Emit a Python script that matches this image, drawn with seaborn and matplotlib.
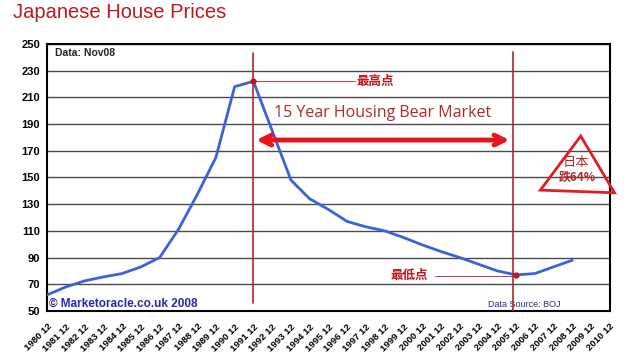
import matplotlib
matplotlib.use("Agg")
import matplotlib.pyplot as plt
import seaborn as sns
import pandas as pd
from matplotlib.patches import Polygon

# annual house price index, December readings (BOJ)
years = list(range(1980, 2009))
prices = [62, 68, 72.5, 75.5, 78, 83, 90, 111, 137, 165, 218, 222, 185, 148,
          134, 126, 117, 113, 110, 105, 99.5, 94.5, 90, 85, 80, 77, 78, 83, 88]
tick_years = list(range(1980, 2011))
y_ticks = list(range(50, 251, 20))

peak_year = 1991
low_year = 2005

sns.set_style("white")
plt.rcParams['font.family'] = ['Liberation Sans', 'Noto Sans CJK SC', 'DejaVu Sans']

df = pd.DataFrame({'pos': [y - 1980 for y in years], 'price': prices})

fig = plt.figure(figsize=(6.28, 3.57), dpi=100)
ax = fig.add_axes([0.075, 0.129, 0.896, 0.748])

red = '#c0161d'
dark_red = '#b3262b'

sns.lineplot(x='pos', y='price', data=df, color='#3b62da', linewidth=2, ax=ax, zorder=3)

ax.set_xlim(0, 30)
ax.set_ylim(50, 250)
ax.set_yticks(y_ticks)
ax.set_yticklabels([str(v) for v in y_ticks], fontsize=8, fontweight='bold')
ax.set_xticks(range(len(tick_years)))
ax.set_xticklabels([f"{y} 12" for y in tick_years], rotation=45, ha='right',
                   rotation_mode='anchor', fontsize=6.8, fontweight='bold')
ax.tick_params(axis='both', direction='out', length=3, width=1, colors='black', pad=2)
ax.tick_params(axis='x', pad=5)
ax.set_xlabel('')
ax.set_ylabel('')
ax.grid(axis='y', color='#4a4a4a', linewidth=1)
for s in ax.spines.values():
    s.set_color('black')
    s.set_linewidth(1.5)

# bear market markers
p_peak = peak_year - 1980
p_low = low_year - 1980
ax.plot([p_peak, p_peak], [243, 56], color=dark_red, lw=1.2, zorder=4)
ax.plot([p_low - 0.15, p_low - 0.15], [244, 50], color=dark_red, lw=1.2, zorder=4)
ax.plot([p_peak, 5.4 + p_peak], [222, 222], color=red, lw=0.6, zorder=4)
ax.plot([20.7, p_low], [76.5, 76.5], color=dark_red, lw=0.6, zorder=4)
ax.plot(p_peak, 222, 'o', color=red, ms=3.5, zorder=5)
ax.plot(p_low, 77, 'o', color=red, ms=3.5, zorder=5)

ax.text(16.5, 222, '最高点', color=red, fontsize=9, fontweight='bold',
        va='center', ha='left', family=['Noto Sans CJK SC'])
ax.text(20.3, 76.5, '最低点', color=red, fontsize=9, fontweight='bold',
        va='center', ha='right', family=['Noto Sans CJK SC'])
ax.text(17.9, 198, '15 Year Housing Bear Market', color=dark_red, fontsize=11.5,
        ha='center', va='center', family=['Open Sans'])
ax.annotate('', xy=(p_peak, 178), xytext=(p_low - 0.2, 178),
            arrowprops=dict(arrowstyle='<->', color='#e8151c', lw=3.5, mutation_scale=18))

# hand drawn triangle
tri = Polygon([[28.45, 181], [26.3, 140.5], [30.25, 138.5]], closed=True, fill=False,
              edgecolor='#e31b23', lw=2, clip_on=False, zorder=6)
ax.add_patch(tri)
ax.text(28.2, 161, '日本', color=dark_red, fontsize=9.5, ha='center', va='center',
        family=['Noto Sans CJK SC'], clip_on=False)
ax.text(28.25, 150, '跌64%', color=dark_red, fontsize=8.5, ha='center', va='center',
        fontweight='bold', family=['Noto Sans CJK SC'], clip_on=False)

ax.text(0.4, 243, 'Data: Nov08', fontsize=7.5, fontweight='bold', va='center')
ax.text(0.1, 55.5, '© Marketoracle.co.uk 2008', fontsize=8.5, fontweight='bold',
        color='#2a2aa8', va='center')
ax.text(23.5, 55, 'Data Source: BOJ', fontsize=6.5, color='#2a2a9a', va='center')

fig.text(0.02, 0.965, 'Japanese House Prices', color=red, fontsize=14.5, va='center',
         family=['Liberation Sans'])

fig.savefig('out.png', dpi=100)
